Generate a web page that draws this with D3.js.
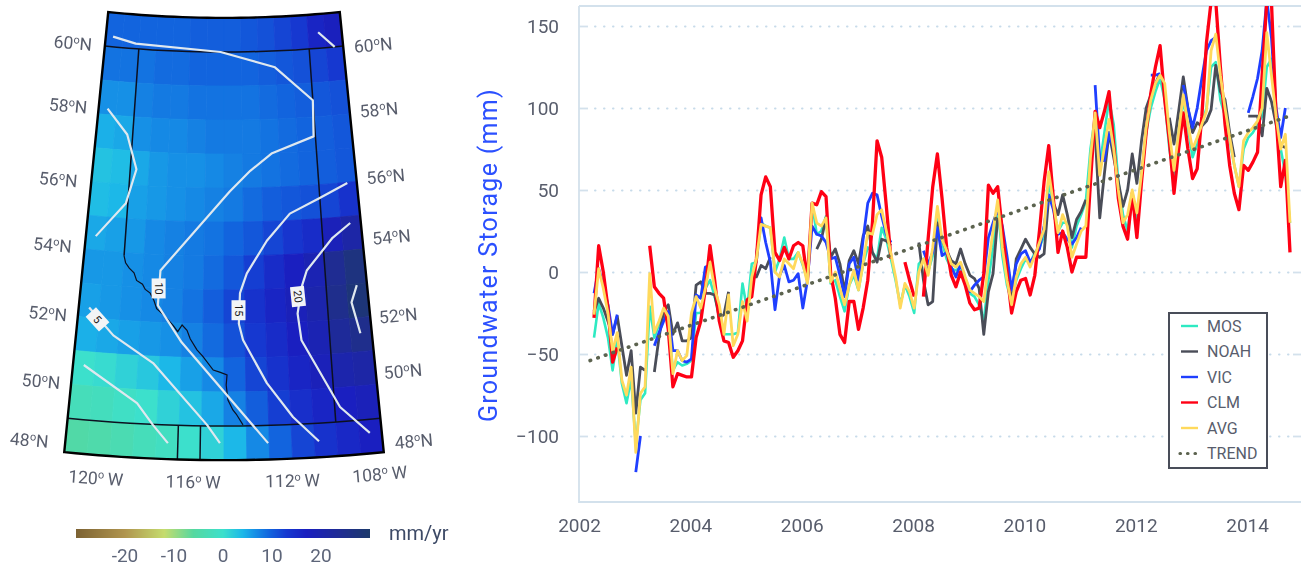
<!DOCTYPE html>
<html><head><meta charset="utf-8">
<script src="https://cdnjs.cloudflare.com/ajax/libs/d3/7.8.5/d3.min.js"></script>
<style>
html,body{margin:0;padding:0;background:#fff;}
svg{display:block;filter:blur(0.35px);}
text{font-family:Roboto,"Open Sans",sans-serif;}
</style></head><body>
<svg id="chart" width="1301" height="566"></svg>
<script>
// ---------- time series data (mm), monthly, null = gap ----------
const firstMonth = 2002.27;
const MOS = [-40,-19,-28,-40,-60,-41,-68,-80,-65,-105,
-78,-74,-21,-40,-32,-25,-30,-60,-55,-57,
-56,-54,-25,-25,-10,-5,-15,-25,-38,-38,
-38,-37,-7,-23,5,6,30,28,27,0,
8,21,8,8,12,4,-5,42,23,25,
34,-7,-5,-15,-24,-8,-2,-11,5,15,
12,8,27,20,8,-5,-20,-8,-15,-25,
5,8,0,10,33,18,8,2,1,3,
-5,-13,-15,-20,-30,-5,15,40,10,-8,
-18,-5,2,8,5,12,15,22,55,40,
25,30,30,15,28,35,43,75,95,65,
85,105,90,55,35,25,45,30,60,85,
100,110,118,105,75,58,85,105,88,70,
78,90,100,125,128,105,95,80,65,52,
75,82,85,90,95,125,130,95,75,60,
30];
const NOAH = [-24,-16,-22,-30,-38,-27,-45,-63,-48,-86,
-58,-60,null,-61,-40,-24,-20,-38,-31,-42,
-42,-40,-8,-6,-13,-13,-14,-28,-26,-12,
null,null,null,null,-3,-3,4,2,9,null,
null,null,null,null,null,null,null,null,14,20,
33,9,14,5,-12,7,13,5,22,28,
12,6,20,19,16,null,null,null,null,null,
18,-5,-20,-18,30,20,13,7,5,14,
5,-2,-4,-10,-38,-12,-1,33,null,null,
-17,8,14,20,15,11,9,11,46,42,
35,47,35,21,32,37,44,null,85,33,
60,85,70,55,40,50,72,54,80,100,
108,115,121,null,94,78,98,119,100,85,
91,89,92,99,126,110,105,85,70,null,
null,95,95,95,83,112,104,90,77,76,
null];
const VIC = [-13,2,-8,-20,-38,-26,null,null,null,-122,
-100,null,null,-45,-37,-30,-24,-48,-48,-54,
-55,-53,-14,-16,3,4,null,null,null,null,
null,null,null,null,null,10,33,18,6,-23,
-2,4,-6,-5,-1,-22,-5,28,23,22,
18,8,9,-2,-15,5,9,-5,20,42,
48,47,34,23,18,null,null,null,null,null,
null,13,5,12,27,10,12,3,-3,5,
-4,-12,-8,-5,-3,21,30,38,28,10,
-11,5,11,13,6,10,14,28,47,38,
23,24,20,17,21,27,null,null,114,68,
68,85,75,null,null,null,null,null,null,null,
120,120,121,null,null,null,null,114,100,88,
100,118,135,141,143,null,null,null,null,null,
null,97,107,118,135,166,143,100,82,100,
null];
const CLM = [-28,16,0,-22,-55,-46,null,null,null,null,
null,null,16,-9,-13,-16,-35,-70,-62,-63,
-64,-64,-40,-30,-10,16,-5,-30,-42,-43,
-52,-48,-42,-17,-15,8,47,58,52,12,
7,15,8,16,18,16,-5,42,41,49,
46,-1,-16,-38,-43,-18,-18,-35,-22,-5,
30,80,70,40,8,null,null,6,-5,-15,
null,-15,20,52,72,45,15,-2,-9,0,
-8,-19,-23,-22,-1,53,48,52,25,0,
-25,-12,-5,-4,-14,-2,25,55,77,45,
12,25,15,0,9,9,9,55,98,88,
98,110,78,45,28,20,48,21,55,85,
109,125,138,105,80,48,75,97,75,57,
63,95,140,165,165,125,90,65,48,38,
65,62,67,73,120,165,165,95,52,68,
12];
const AVG = [-26,2,-10,-25,-48,-37,-66,-75,-58,-110,
-74,-70,-1,-37,-30,-22,-27,-62,-48,-54,
-51,-25,-15,-22,-10,6,-10,-20,-38,-14,
-45,-38,-18,-30,-3,8,29,28,27,0,
-3,8,5,2,12,5,-7,42,30,28,
33,-6,0,-10,-20,-8,1,-11,5,24,
23,35,38,25,11,-3,-22,-7,-12,-22,
0,8,-2,15,40,20,13,5,3,6,
-3,-11,-13,-15,-18,5,25,44,15,-5,
-20,-3,5,9,3,10,18,26,61,42,
24,35,28,9,17,25,28,70,97,59,
76,93,75,50,30,35,50,36,60,88,
105,115,120,115,85,62,85,108,90,75,
82,90,98,135,145,120,100,82,65,52,
80,85,88,92,100,146,120,95,75,84,
30];
const trendYears = [2002.2, 2014.75];
const trendValues = [-54, 95];
const seriesNames = ["MOS","NOAH","VIC","CLM","AVG"];
const seriesData = [MOS,NOAH,VIC,CLM,AVG];
const legendNames = ["MOS","NOAH","VIC","CLM","AVG","TREND"];
const xTickYears = [2002,2004,2006,2008,2010,2012,2014];
const yTickValues = [-100,-50,0,50,100,150];

// ---------- map data ----------
const gridLons = [-122,-121,-120,-119,-118,-117,-116,-115,-114,-113,-112,-111,-110,-109];
const gridLats = [60,59,58,57,56,55,54,53,52,51,50,49,48];
const trendGrid = [
[9.5,9.5,9.5,9.5,9.5,10,10,10,10.5,11,12,13,16,17.5],
[8.5,8.5,8.5,9,9,9.5,9.5,9.5,9.5,10,10.5,11,12,13],
[6.5,6.5,7.5,8,8,8.5,8.5,8.5,8.5,9,9.5,10,10.5,11],
[4.5,5,6.5,7,7,7.5,8,8,8,8.5,9,9.5,10,10.5],
[3,3.5,5,6,6.5,6.5,7,7.5,8,8.5,9,9.5,10,10.5],
[3.5,4,5.5,6,6.5,7,7.5,8,9,10,10.5,11,12,14],
[5,5.5,6,7,7.5,8,8.5,9.5,10.5,12,13.5,15,18,21],
[6,6,6.5,7,7.5,8,9,10.5,12.5,15,17,19,24,27],
[5.5,6,6.5,7,7.5,8.5,10,12,14,16,18,20,25,28],
[4.5,5,5.5,6,6.5,7.5,9,11,13,15,17,19,23,25],
[0,0.5,1.5,2.5,4,5.5,7,9.5,12,14,16,18,20,21],
[-2.5,-2,-1,0,1.5,3,5,7.5,10,12.5,14.5,16,17,18],
[-5,-4.5,-3.5,-2.5,-1.5,0,1.5,4,7,9.5,12,14,15.5,17]
];
const contourLines = [
 [[-121.57,60.3],[-120.2,60.15],[-115.2,60.0],[-112.05,59.52],[-110.0,58.49],[-110.1,57.43],[-112.4,57.0],[-113.6,56.5],[-114.7,55.9],[-118.15,53.53],[-118.2,52.5],[-117.0,51.44],[-113.05,48.48]],
 [[-109.4,60.47],[-108.5,60.0]],
 [[-121.5,58.18],[-120.3,57.47],[-119.67,56.47],[-120.1,55.45],[-121.5,54.41]],
 [[-121.5,52.3],[-120.24,51.54],[-118.3,50.8],[-115.76,49.03],[-115.18,48.5]],
 [[-121.5,50.6],[-118.94,49.6],[-118.17,48.98],[-117.48,48.47]],
 [[-108.5,55.98],[-110.03,55.6],[-111.6,55.2],[-112.83,54.43],[-113.87,53.48],[-114.22,52.9],[-114.29,52.0],[-114.1,51.52],[-113.03,50.24],[-111.9,49.22],[-110.8,48.47]],
 [[-108.54,54.8],[-109.5,54.41],[-110.9,53.5],[-111.2,53.02],[-111.46,52.25],[-111.34,51.46],[-109.76,49.43],[-108.53,48.6]],
 [[-108.5,52.96],[-108.83,52.47],[-108.54,51.54]]
];
const contourLabelText = ["5","10","15","20"];
const contourLabelLon = [-121.05,-118.2,-114.3,-111.4];
const contourLabelLat = [51.97,53.0,52.4,52.75];
const contourLabelAngle = [48,90,90,84];
const divideLine = [[-120,53.9],[-119.9,53.7],[-119.7,53.55],[-119.45,53.42],[-119.3,53.2],[-119,53.1],[-118.85,52.95],[-118.6,52.85],[-118.4,52.64],[-118.25,52.4],[-117.85,52.2],[-117.43,51.93],[-117.2,51.75],[-117.0,51.95],[-116.76,51.8],[-116.6,51.55],[-116.27,51.23],[-116,51.05],[-115.5,50.64],[-115.2,50.58],[-114.86,50.5],[-114.9,50.2],[-114.82,49.76],[-114.6,49.47],[-114.45,49.35],[-114.15,49.03]];
const mapBorders = [
 [[-122,60],[-108,60]],
 [[-122,49],[-108,49]],
 [[-120,60],[-120,53.9]],
 [[-110,60],[-110,49]],
 [[-117.04,49],[-117.04,48]],
 [[-116.05,49],[-116.05,48]],
 divideLine
];
const latLabels = [60,58,56,54,52,50,48];
const lonLabels = [120,116,112,108];
const colorStops = [-30,-20,-12,-6,0,4,6.5,9.5,13,17,24,30];
const colorRamp = ["#7c6233","#b0954e","#c5dc6e","#55d8a0","#3ce0cc","#1cb8e8","#1690e6","#1264de","#1638d0","#1a1fc0","#1f2c92","#1c3a6b"];
const colorbarTicks = [-20,-10,0,10,20];

// ---------- layout ----------
const W = 1301, H = 566;
const plot = {left:579, right:1301, top:6, bottom:502};
const textCol = "#585d6c";
const svg = d3.select("#chart");

// ====== MAP ======
const projection = d3.geoConicConformal()
  .parallels([49,60]).rotate([115,0]).center([0,54.5])
  .scale(1954).translate([224,239]).precision(0.2);
const geo = d3.geoPath(projection);
const color = d3.scaleLinear().domain(colorStops).range(colorRamp).clamp(true);
const mapG = svg.append("g");
function cellRing(lon,lat){
  return {type:"Polygon",coordinates:[[[lon,lat],[lon,lat+1],[lon+1,lat+1],[lon+1,lat],[lon,lat]]]};
}
gridLats.forEach((lat,r)=>gridLons.forEach((lon,c)=>{
  const col = color(trendGrid[r][c]);
  mapG.append("path").attr("d",geo(cellRing(lon,lat))).attr("fill",col).attr("stroke",col).attr("stroke-width",0.8);
}));
// borders
mapBorders.forEach(b=>{
  const pts = b===divideLine ? b : d3.range(0,21).map(i=>[b[0][0]+(b[1][0]-b[0][0])*i/20,b[0][1]+(b[1][1]-b[0][1])*i/20]);
  mapG.append("path").attr("d",d3.line().x(p=>projection(p)[0]).y(p=>projection(p)[1])(pts))
   .attr("fill","none").attr("stroke","#0c1020").attr("stroke-width",b===divideLine?1.2:1.5);
});
// contours
contourLines.forEach(c=>{
  mapG.append("path")
   .attr("d",d3.line().x(p=>projection(p)[0]).y(p=>projection(p)[1])(c))
   .attr("fill","none").attr("stroke","#dfe8ef").attr("stroke-width",2.2).attr("stroke-linejoin","round");
});
// contour labels
contourLabelText.forEach((t,i)=>{
  const [x,y] = projection([contourLabelLon[i],contourLabelLat[i]]);
  const g = mapG.append("g").attr("transform",`translate(${x},${y}) rotate(${contourLabelAngle[i]})`);
  g.append("rect").attr("x",-10).attr("y",-7).attr("width",20).attr("height",14).attr("fill","#f2f4f6");
  g.append("text").attr("text-anchor","middle").attr("dy","0.35em").attr("font-size",11).attr("fill","#1a1a1a").text(t);
});
// frame
const frameLons = d3.range(-122,-107.5,0.5), frameLatsUp = d3.range(48,61.01,0.5);
const frame = [
  ...frameLons.map(l=>[l,48]),
  ...frameLatsUp.map(l=>[-108,l]),
  ...frameLons.slice().reverse().map(l=>[l,61]),
  ...frameLatsUp.slice().reverse().map(l=>[-122,l])
];
mapG.append("path").attr("d",d3.line().x(p=>projection(p)[0]).y(p=>projection(p)[1])(frame)+"Z")
  .attr("fill","none").attr("stroke","#000").attr("stroke-width",2.4).attr("stroke-linejoin","miter");

function degreeLabel(parent,num,suffix,x,y,rot){
  const t = parent.append("text").attr("transform",`translate(${x},${y}) rotate(${rot})`)
    .attr("text-anchor","middle").attr("dy","0.35em").attr("font-size",17.5).attr("fill",textCol);
  t.append("tspan").text(num);
  t.append("tspan").attr("font-size",11).attr("dy",-6).text("o");
  t.append("tspan").attr("dy",6).text(suffix);
}
const latLeftOffset = [[-32,-3],[-30,-8],[-33,-2],[-32,-4],[-30,-3],[-30,-3],[-35,-12]];
const latRightOffset = [[30,-1],[29,-4],[29,-5],[28,-12],[28,-1],[26,-13],[30,-11]];
latLabels.forEach((lat,i)=>{
  const L = projection([-122,lat]), R = projection([-108,lat]);
  degreeLabel(mapG,lat,"N",L[0]+latLeftOffset[i][0],L[1]+latLeftOffset[i][1],5);
  degreeLabel(mapG,lat,"N",R[0]+latRightOffset[i][0],R[1]+latRightOffset[i][1],-5);
});
const lonLabelRot = [4,1,-1,-5];
const lonLabelOffset = [[-14,22],[-8,22],[0,22],[-4,22]];
lonLabels.forEach((lon,i)=>{
  const P = projection([-lon,48]);
  degreeLabel(mapG,lon,"\u2009W",P[0]+lonLabelOffset[i][0],P[1]+lonLabelOffset[i][1],lonLabelRot[i]);
});

// colour bar
const barScale = d3.scaleLinear().domain([-30,30]).range([76,370]);
const defs = svg.append("defs");
const lg = defs.append("linearGradient").attr("id","cb");
colorStops.forEach((s,i)=>lg.append("stop").attr("offset",((s+30)/60*100)+"%").attr("stop-color",colorRamp[i]));
svg.append("rect").attr("x",barScale(-30)).attr("y",529).attr("width",barScale(30)-barScale(-30)).attr("height",9).attr("fill","url(#cb)");
colorbarTicks.forEach(t=>svg.append("text").attr("x",barScale(t)).attr("y",561.5).attr("text-anchor","middle").attr("font-size",19).attr("fill","#5d6579").text(t));
svg.append("text").attr("x",389).attr("y",540).attr("font-size",20).attr("fill","#3d4a66").text("mm/yr");

// ====== TIME SERIES ======
const x = d3.scaleLinear().domain([2002,2015]).range([plot.left,plot.right+1.8]);
const y = d3.scaleLinear().domain([0,150]).range([272,26]);

const frameCol = "#d3e1ec";
svg.append("path").attr("d",`M${plot.left},${plot.top}V${plot.bottom}H${plot.right}M${plot.left},${plot.top}H${plot.right}`)
  .attr("fill","none").attr("stroke",frameCol).attr("stroke-width",1.8);
// grid
const grid = svg.append("g").attr("transform",`translate(${plot.left},0)`)
  .call(d3.axisLeft(y).tickValues(yTickValues).tickSize(-(plot.right-plot.left-8)).tickFormat(""));
grid.select(".domain").remove();
grid.selectAll("line").attr("x1",16).attr("stroke","#c7dbea").attr("stroke-width",2).attr("stroke-linecap","round").attr("stroke-dasharray","0.5,8.5");
// tick stubs
const stubL = svg.append("g").attr("transform",`translate(${plot.left},0)`)
  .call(d3.axisLeft(y).tickValues(yTickValues).tickSizeInner(-9).tickSizeOuter(0).tickPadding(20).tickFormat(d3.format("d")));
stubL.select(".domain").remove();
stubL.selectAll("line").attr("stroke",frameCol).attr("stroke-width",1.8);
stubL.selectAll("text").attr("font-size",19).attr("fill",textCol).style("font-family","Roboto");
const stubR = svg.append("g").attr("transform",`translate(${plot.right},0)`)
  .call(d3.axisRight(y).tickValues(yTickValues).tickSizeInner(-8).tickSizeOuter(0).tickFormat(""));
stubR.select(".domain").remove();
stubR.selectAll("line").attr("stroke",frameCol).attr("stroke-width",1.8);
const xAx = svg.append("g").attr("transform",`translate(0,${plot.bottom})`)
  .call(d3.axisBottom(x).tickValues(xTickYears).tickSize(0).tickPadding(17).tickFormat(d3.format("d")));
xAx.select(".domain").remove();
xAx.selectAll("text").attr("font-size",19).attr("fill",textCol).style("font-family","Roboto");

svg.append("text").attr("transform",`translate(497,255) rotate(-90)`).attr("text-anchor","middle")
  .attr("font-size",25).attr("letter-spacing",1.3).attr("fill","#2b50ff").text("Groundwater Storage (mm)");

defs.append("clipPath").attr("id","plotClip").append("rect")
  .attr("x",plot.left).attr("y",plot.top).attr("width",plot.right-plot.left).attr("height",plot.bottom-plot.top);
const styles = {
  MOS:{c:"#2eeac2",w:2.6}, NOAH:{c:"#4a4d58",w:2.8}, VIC:{c:"#1f3fff",w:2.8},
  CLM:{c:"#ff0014",w:3.3}, AVG:{c:"#ffd95c",w:2.8}
};
const lineGen = d3.line().defined(d=>d!==null).x((d,i)=>x(firstMonth+i/12)).y(d=>y(d));
const plotG = svg.append("g").attr("clip-path","url(#plotClip)");
seriesNames.forEach((n,k)=>{
  plotG.append("path").datum(seriesData[k]).attr("d",lineGen)
    .attr("fill","none").attr("stroke",styles[n].c).attr("stroke-width",styles[n].w).attr("stroke-linejoin","round");
});
plotG.append("path")
  .attr("d",d3.line().x((d,i)=>x(trendYears[i])).y(d=>y(d))(trendValues))
  .attr("fill","none").attr("stroke","#5c634f").attr("stroke-width",3.6).attr("stroke-linecap","round").attr("stroke-dasharray","0.5,7.6");

// legend
const lgG = svg.append("g");
lgG.append("rect").attr("x",1169).attr("y",313).attr("width",98).attr("height",155).attr("fill","#fff").attr("stroke","#494d59").attr("stroke-width",2);
legendNames.forEach((n,i)=>{
  const yy = 326+i*25.5;
  const ln = lgG.append("line").attr("x1",1181).attr("x2",1198).attr("y1",yy).attr("y2",yy);
  if(n==="TREND") ln.attr("stroke","#5c634f").attr("stroke-width",3.2).attr("stroke-linecap","round").attr("stroke-dasharray","0.5,7").attr("x1",1180);
  else ln.attr("stroke",styles[n].c).attr("stroke-width",2.4);
  lgG.append("text").attr("x",1207).attr("y",yy).attr("dy","0.35em").attr("font-size",16).attr("fill",textCol).text(n);
});
</script>
</body></html>
